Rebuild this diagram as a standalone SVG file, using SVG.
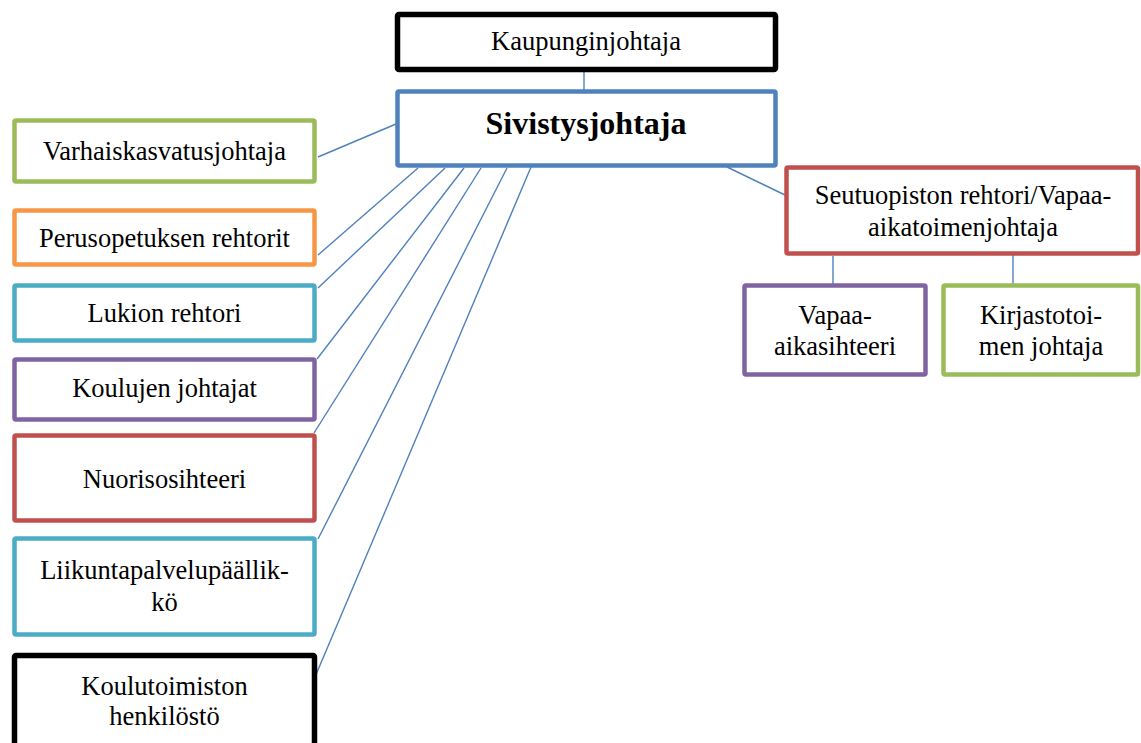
<svg xmlns="http://www.w3.org/2000/svg" width="1141" height="743" viewBox="0 0 1141 743">
  <style>
    .box { fill: #ffffff; stroke-width: 4.5; }
    .black { stroke: #000000; stroke-width: 5.5; }
    .blue { stroke: #4F81BD; }
    .green { stroke: #9BBB59; }
    .orange { stroke: #F79646; }
    .teal { stroke: #4BACC6; }
    .purple { stroke: #8064A2; }
    .red { stroke: #C0504D; }
    .label { font-size: 26.5px; fill: #000000; text-anchor: middle; }
    .title { font-size: 32px; font-weight: bold; }
    .conn line { stroke: #4F81BD; stroke-width: 1.4; }
  </style>
  <rect width="1141" height="743" fill="#ffffff"/>

  <!-- connectors -->
  <g id="connectors" class="conn">
    <line x1="584" y1="70" x2="584" y2="91"/>
    <line x1="396" y1="124" x2="318" y2="157"/>
    <line x1="418" y1="168" x2="318" y2="255"/>
    <line x1="445" y1="168" x2="318" y2="288"/>
    <line x1="464" y1="168" x2="317" y2="359"/>
    <line x1="481" y1="168" x2="314" y2="433"/>
    <line x1="507" y1="168" x2="318" y2="539"/>
    <line x1="534" y1="160" x2="315" y2="677"/>
    <line x1="727" y1="167" x2="785" y2="195"/>
    <line x1="833" y1="256" x2="833" y2="284"/>
    <line x1="1013" y1="248" x2="1013" y2="284"/>
  </g>

  <g font-family="'Liberation Serif', 'DejaVu Serif', serif" class="label">
    <g id="kaupunginjohtaja">
      <rect class="box black" x="397.5" y="14.5" width="378" height="55" rx="1.5"/>
      <text x="586" y="50">Kaupunginjohtaja</text>
    </g>

    <g id="sivistysjohtaja">
      <rect class="box blue" x="397.5" y="91.5" width="378" height="74" rx="1.5"/>
      <text class="title" x="586" y="134">Sivistysjohtaja</text>
    </g>

    <g id="varhaiskasvatusjohtaja">
      <rect class="box green" x="14.5" y="120.5" width="300" height="61" rx="1.5"/>
      <text x="164.5" y="160">Varhaiskasvatusjohtaja</text>
    </g>

    <g id="perusopetuksen-rehtorit">
      <rect class="box orange" x="14.5" y="210.5" width="300" height="54" rx="1.5"/>
      <text x="164.5" y="247">Perusopetuksen rehtorit</text>
    </g>

    <g id="lukion-rehtori">
      <rect class="box teal" x="14.5" y="285.5" width="300" height="55" rx="1.5"/>
      <text x="164.5" y="322">Lukion rehtori</text>
    </g>

    <g id="koulujen-johtajat">
      <rect class="box purple" x="14.5" y="359.5" width="300" height="60" rx="1.5"/>
      <text x="164.5" y="397">Koulujen johtajat</text>
    </g>

    <g id="nuorisosihteeri">
      <rect class="box red" x="14.5" y="435.5" width="300" height="85" rx="1.5"/>
      <text x="164.5" y="488">Nuorisosihteeri</text>
    </g>

    <g id="liikuntapalvelupaallikko">
      <rect class="box teal" x="14.5" y="538.5" width="300" height="96" rx="1.5"/>
      <text x="164.5" y="579">Liikuntapalvelupäällik-</text>
      <text x="164.5" y="611">kö</text>
    </g>

    <g id="koulutoimiston-henkilosto">
      <rect class="box black" x="14.5" y="655.5" width="300" height="100" rx="1.5"/>
      <text x="164.5" y="695">Koulutoimiston</text>
      <text x="164.5" y="725">henkilöstö</text>
    </g>

    <g id="seutuopiston-rehtori">
      <rect class="box red" x="786.5" y="167.5" width="351.5" height="86" rx="1.5"/>
      <text x="963" y="204">Seutuopiston rehtori/Vapaa-</text>
      <text x="963" y="236">aikatoimenjohtaja</text>
    </g>

    <g id="vapaa-aikasihteeri">
      <rect class="box purple" x="744.5" y="285.5" width="181" height="89" rx="1.5"/>
      <text x="835" y="324">Vapaa-</text>
      <text x="835" y="355">aikasihteeri</text>
    </g>

    <g id="kirjastotoimen-johtaja">
      <rect class="box green" x="943.5" y="285.5" width="194.5" height="89" rx="1.5"/>
      <text x="1041" y="324">Kirjastotoi-</text>
      <text x="1041" y="355">men johtaja</text>
    </g>
  </g>
</svg>
